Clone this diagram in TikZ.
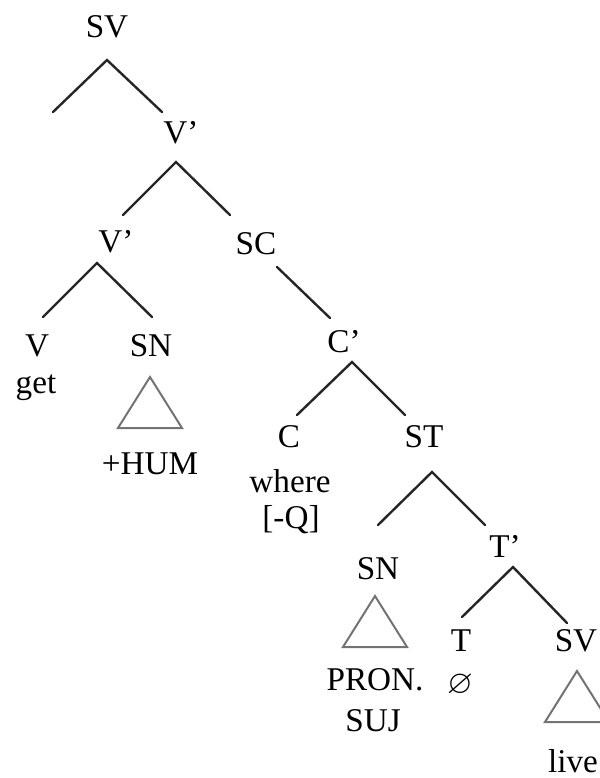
\documentclass[tikz,border=0pt]{standalone}
\usepackage{amssymb}
\usepackage{fontspec}
\setmainfont{Liberation Serif}

\tikzset{
  cat/.style={anchor=base,inner sep=0pt,font=\fontsize{16.6}{20}\selectfont},
  branch/.style={line width=1.2pt,black!85,line cap=round},
  roof/.pic={\draw[black!55,line width=1pt,line join=miter] (0,0) -- (-32,51) -- (32,51) -- cycle;}
}

\begin{document}
\begin{tikzpicture}[x=0.5pt,y=-0.5pt,every node/.style={cat}]

            \useasboundingbox (0,0) rectangle (600,778);

            \node (SV) at (107,37) {SV};
            \node (V1) at (181,143) {V'};
            \node (V2) at (116,252) {V'};
            \node (SC) at (256,254) {SC};
            \node (V) at (37,356) {V};
            \node (get) at (36,393) {get};
            \node (SN1) at (151,356) {SN};
            \node (hum) at (150,474) {+HUM};
            \node (C1) at (344,352) {C'};
            \node (C) at (289,447) {C};
            \node (where) at (290,492) {where};
            \node (Q) at (291,528) {[-Q]};
            \node (ST) at (424,447) {ST};
            \node (SN2) at (378,579) {SN};
            \node (T1) at (505,557) {T'};
            \node (pron) at (375,690) {PRON.};
            \node (suj) at (373,731) {SUJ};
            \node (T) at (461,651) {T};
            \node (nul) at (460,693) {$\varnothing$};
            \node (SV2) at (576,651) {SV};
            \node (live) at (573,772) {live};

            \foreach \n/\ap/\lp/\rp in {SV/{107,60}/{53,112}/{162,112},
                                         V1/{176,162}/{123,215}/{230,215},
                                         V2/{97,263}/{43,317}/{152,317},
                                         C1/{352,362}/{297,415}/{405,415},
                                         ST/{432,472}/{378,525}/{485,525},
                                         T1/{513,567}/{462,617}/{567,623}} {
                \coordinate (\n-top) at (\ap);
                \coordinate (\n-l) at (\lp);
                \coordinate (\n-r) at (\rp);
                \draw[branch] (\n-l) -- (\n-top) -- (\n-r);
            }

            \coordinate (SC-top) at (277,267);
            \coordinate (SC-r) at (330,318);
            \draw[branch] (SC-top) -- (SC-r);

            \pic at (150,377) {roof};
            \pic at (375,596) {roof};
            \pic at (577,671) {roof};

        \end{tikzpicture}
\end{document}
